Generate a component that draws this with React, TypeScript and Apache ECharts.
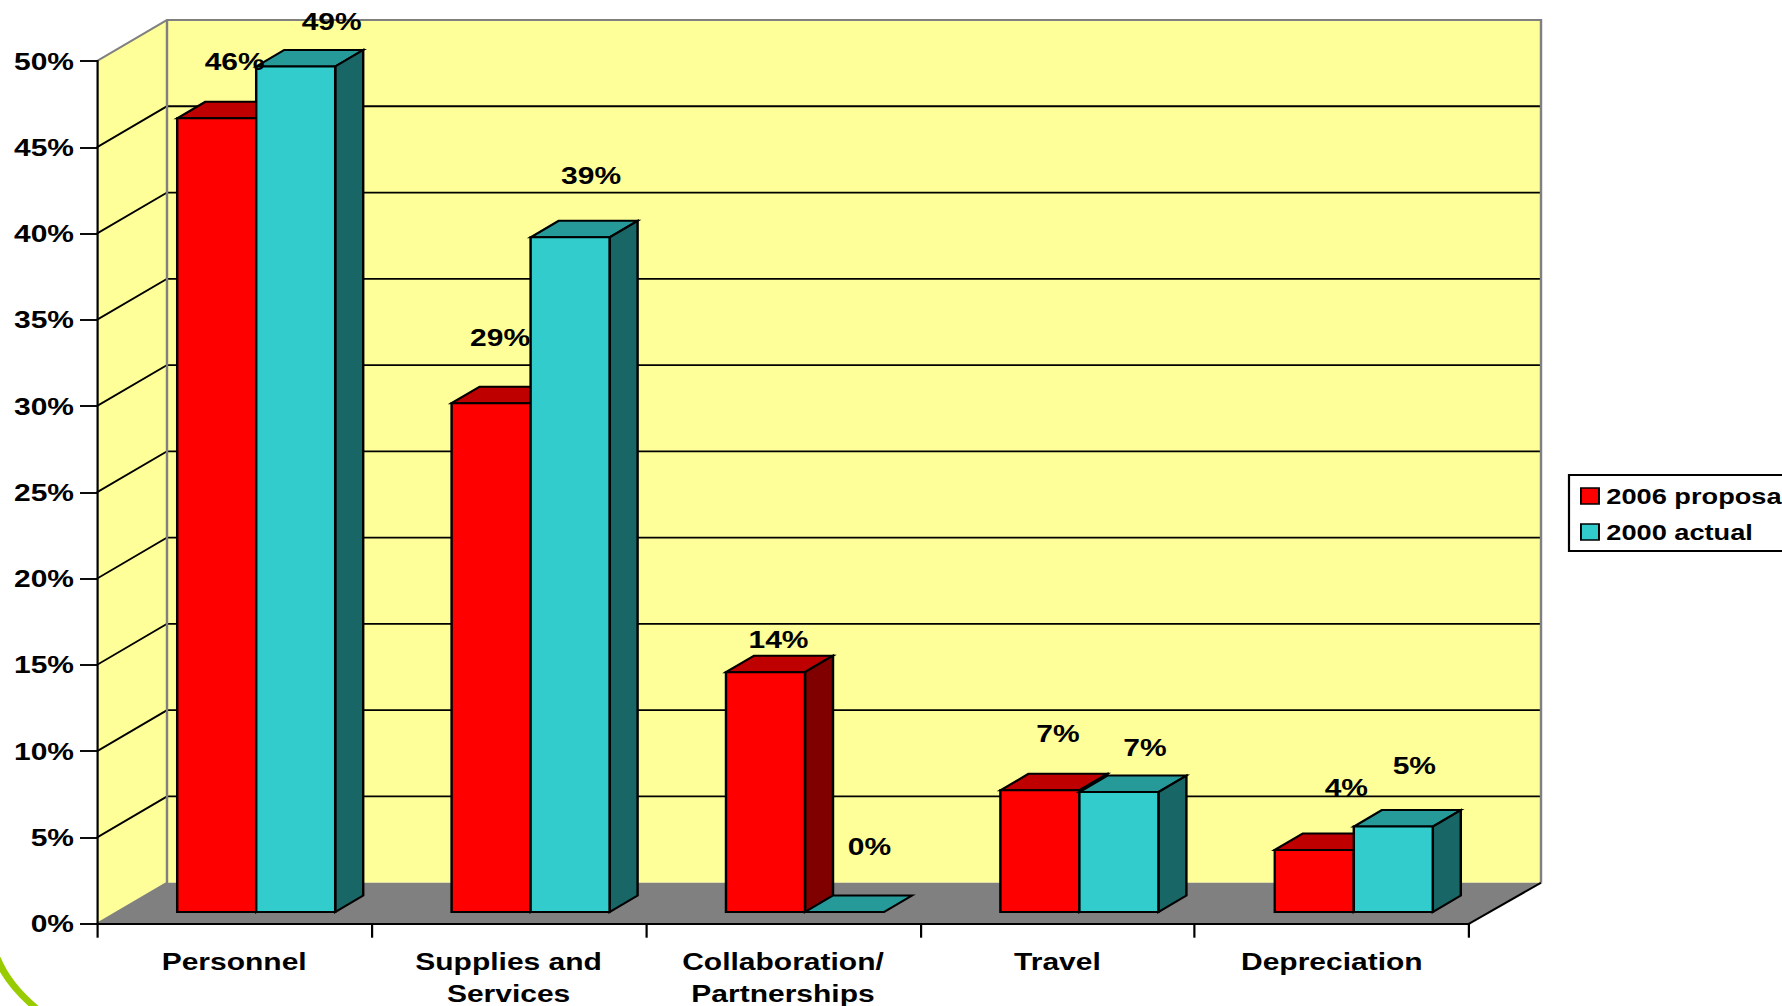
import React, { useEffect, useRef } from "react";
import * as echarts from "echarts";

const categories = ["Personnel", "Supplies and\nServices", "Collaboration/\nPartnerships", "Travel", "Depreciation"];
const seriesNames = ["2006 proposal", "2000 actual"];
const proposal2006 = [46.0, 29.49, 13.9, 7.05, 3.6];
const actual2000 = [49.0, 39.1, 0, 6.95, 4.95];
const yTicks = [5, 10, 15, 20, 25, 30, 35, 40, 45];

// The reference is a horizontally stretched picture: the chart is drawn narrower and widened by CSS.
const STRETCH = 1.22;
const WIDTH = 1782;
const HEIGHT = 1006;
const X = (px: number) => px / STRETCH;

// Label offsets from the top-centre of each bar, as placed in the reference (page px).
const proposalLabelShift = [[18, -57], [9, -66], [13, -33], [18, -56.5], [32, -62.5]];
const actualLabelShift = [[36, -45], [21, -61.5], [25, -66], [26, -45], [21, -61]];

const FONT = "Liberation Sans";
const FONT_SIZE = 24.6;
const LINE = 2;
const WALL_DX = X(70);
const WALL_RIGHT_DX = X(72);
const WALL_DY = -41;
const BAR_SHIFT_X = X(22);
const BAR_SHIFT_Y = -11.7;
const BAR_WIDTH = X(79);
const DEPTH_DX = X(28);
const DEPTH_DY = -16.5;

const barStyles = [
  { front: "#FF0000", top: "#BF0000", side: "#800000" },
  { front: "#33CCCC", top: "#269999", side: "#196666" },
];

const poly = (points: number[][], fill: string, stroke = "#000", lineWidth = LINE) => ({
  type: "polygon",
  shape: { points },
  style: { fill, stroke, lineWidth, lineJoin: "miter" },
});

const pline = (points: number[][], stroke: string, lineWidth = LINE) => ({
  type: "polyline",
  shape: { points },
  style: { fill: "none", stroke, lineWidth },
});

function renderFrame(params: any, api: any) {
  const cs = params.coordSys;
  const xL = cs.x;
  const xR = cs.x + cs.width;
  const yB = api.coord([0, 0])[1];
  const yT = api.coord([0, 50])[1];
  const dx = WALL_DX;
  const rx = WALL_RIGHT_DX;
  const dy = WALL_DY;
  const children: any[] = [
    poly([[xL, yB], [xL + dx, yB + dy], [xL + dx, yT + dy], [xL, yT]], "#FFFF99", "none", 0),
    poly([[xL + dx, yB + dy], [xR + rx, yB + dy], [xR + rx, yT + dy], [xL + dx, yT + dy]], "#FFFF99", "none", 0),
    poly([[xL, yB], [xL + dx, yB + dy], [xR + rx, yB + dy], [xR, yB]], "#808080", "none", 0),
  ];
  yTicks.forEach((t) => {
    const y = api.coord([0, t])[1];
    children.push(pline([[xL, y], [xL + dx, y + dy], [xR + rx, y + dy]], "#000", 1.8));
  });
  children.push(pline([[xL, yT], [xL + dx, yT + dy], [xR + rx, yT + dy], [xR + rx, yB + dy]], "#808080", 2));
  children.push(pline([[xL + dx, yT + dy], [xL + dx, yB + dy], [xL, yB]], "#808080", 2));
  children.push(pline([[xR, yB], [xR + rx, yB + dy]], "#000"));
  return { type: "group", children };
}

const renderBar = (seriesIndex: number) => (params: any, api: any) => {
  const c = api.coord([api.value(0), 0])[0] + BAR_SHIFT_X;
  const base = api.coord([0, 0])[1] + BAR_SHIFT_Y;
  const top = api.coord([0, api.value(1)])[1] + BAR_SHIFT_Y;
  const l = seriesIndex === 0 ? c - BAR_WIDTH : c;
  const r = l + BAR_WIDTH;
  const st = barStyles[seriesIndex];
  const children: any[] = [
    poly([[l, top], [l + DEPTH_DX, top + DEPTH_DY], [r + DEPTH_DX, top + DEPTH_DY], [r, top]], st.top),
  ];
  if (base - top > 0.5) {
    children.push(poly([[r, top], [r + DEPTH_DX, top + DEPTH_DY], [r + DEPTH_DX, base + DEPTH_DY], [r, base]], st.side));
    children.push(poly([[l, top], [r, top], [r, base], [l, base]], st.front));
  }
  return { type: "group", children };
};

const labelData: number[][] = [];
[proposal2006, actual2000].forEach((values, s) => {
  values.forEach((v, i) => labelData.push([i, v, s]));
});

function renderLabel(params: any, api: any) {
  const i = api.value(0);
  const v = api.value(1);
  const s = api.value(2);
  const c = api.coord([i, 0])[0] + BAR_SHIFT_X;
  const top = api.coord([0, v])[1] + BAR_SHIFT_Y;
  const barCentre = s === 0 ? c - BAR_WIDTH / 2 : c + BAR_WIDTH / 2;
  const shift = (s === 0 ? proposalLabelShift : actualLabelShift)[i];
  return {
    type: "text",
    x: barCentre + X(shift[0]),
    y: top + shift[1],
    style: {
      text: Math.round(v) + "%",
      fill: "#000",
      font: `bold ${FONT_SIZE}px "${FONT}"`,
      align: "center",
      verticalAlign: "middle",
    },
  };
}

export default function App() {
  const ref = useRef<HTMLDivElement>(null);
  useEffect(() => {
    const chart = echarts.init(ref.current!, undefined, { renderer: "svg" });
    chart.setOption({
      animation: false,
      backgroundColor: "#fff",
      textStyle: { fontFamily: FONT },
      grid: { left: X(97), top: 61, width: X(1372), height: 862.7, containLabel: false, outerBoundsMode: "none" },
      legend: {
        show: true,
        orient: "vertical",
        left: X(1569),
        top: 475,
        padding: [10, X(11), 8, X(11)],
        itemGap: 14,
        itemWidth: X(18),
        itemHeight: 16,
        icon: "rect",
        selectedMode: false,
        backgroundColor: "#fff",
        borderColor: "#000",
        borderWidth: 1.8,
        borderRadius: 0,
        data: seriesNames,
        itemStyle: { borderColor: "#000", borderWidth: 1.6 },
        textStyle: { fontFamily: FONT, fontWeight: "bold", fontSize: 22.3, color: "#000", padding: [0, 0, 0, 1] },
      },
      xAxis: {
        type: "category",
        data: categories,
        z: 6,
        axisLine: { show: true, onZero: false, lineStyle: { color: "#000", width: 2.2 } },
        axisTick: { show: true, alignWithLabel: false, length: 14, lineStyle: { color: "#000", width: 1.8 } },
        axisLabel: {
          interval: 0,
          margin: 22,
          color: "#000",
          fontFamily: FONT,
          fontWeight: "bold",
          fontSize: FONT_SIZE,
          lineHeight: 32,
        },
        splitLine: { show: false },
      },
      yAxis: {
        type: "value",
        min: 0,
        max: 50,
        interval: 5,
        z: 6,
        axisLine: { show: true, lineStyle: { color: "#000", width: 1.8 } },
        axisTick: { show: true, length: X(17), lineStyle: { color: "#000", width: 1.9 } },
        axisLabel: {
          margin: X(23),
          formatter: "{value}%",
          color: "#000",
          fontFamily: FONT,
          fontWeight: "bold",
          fontSize: FONT_SIZE,
        },
        splitLine: { show: false },
      },
      graphic: [
        {
          type: "bezierCurve",
          silent: true,
          shape: { x1: X(-3), y1: 958, cpx1: X(8), cpy1: 985, x2: X(37), y2: 1009 },
          style: { stroke: "#99CC00", lineWidth: 6, fill: "none" },
        },
      ],
      series: [
        { type: "custom", name: "frame", z: 1, silent: true, data: [[0, 0]], renderItem: renderFrame },
        {
          type: "custom",
          name: seriesNames[0],
          z: 2,
          itemStyle: { color: "#FF0000" },
          data: proposal2006.map((v, i) => [i, v]),
          encode: { x: 0, y: 1 },
          renderItem: renderBar(0),
        },
        {
          type: "custom",
          name: seriesNames[1],
          z: 3,
          itemStyle: { color: "#33CCCC" },
          data: actual2000.map((v, i) => [i, v]),
          encode: { x: 0, y: 1 },
          renderItem: renderBar(1),
        },
        {
          type: "custom",
          name: "labels",
          z: 4,
          silent: true,
          data: labelData,
          encode: { x: 0, y: 1 },
          renderItem: renderLabel,
        },
      ],
    });
    return () => chart.dispose();
  }, []);
  return (
    <div style={{ position: "fixed", left: 0, top: 0, width: WIDTH, height: HEIGHT, overflow: "hidden", background: "#fff" }}>
      <div
        ref={ref}
        style={{
          width: WIDTH / STRETCH,
          height: HEIGHT,
          transform: `scaleX(${STRETCH})`,
          transformOrigin: "0 0",
        }}
      />
    </div>
  );
}
